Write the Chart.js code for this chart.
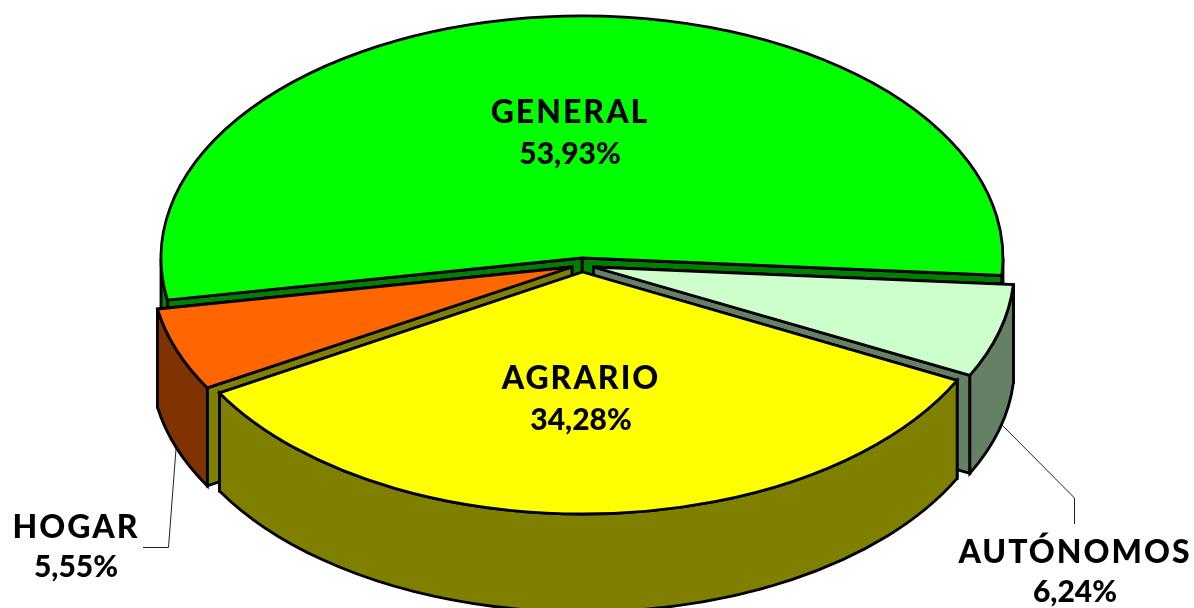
<!DOCTYPE html>
<html lang="es">
<head>
<meta charset="utf-8">
<title>Distribución por regímenes</title>
<style>html,body{margin:0;padding:0;background:#fff;overflow:hidden}canvas{display:block}</style>
<script src="https://cdn.jsdelivr.net/npm/chart.js@4"></script>
</head>
<body>
<canvas id="c" width="1194" height="608"></canvas>
<script>
// Data
const categories = ['GENERAL', 'AUTÓNOMOS', 'AGRARIO', 'HOGAR'];
const shares = [53.93, 6.24, 34.28, 5.55];
const topColors = ['#00FF00', '#CCFFCC', '#FFFF00', '#FF6600'];
const sideColors = ['#008000', '#668066', '#808000', '#803300'];
// colour of the radial cut faces of each slice
const cutColors = ['#008000', '#668066', '#808000', '#808000'];

// 3D projection settings
const RY = 242, DEPTH = 98;
const radiiX = [421, 421, 419, 421];
const centers = [[582, 258], [593.5, 267], [582.5, 272], [572, 267]];
const paintOrder = [0, 1, 3, 2];
const nameStyle = '900 32px Lato, sans-serif';
const pctStyle = '900 30px Lato, sans-serif';
const nameSpacing = '2px';
const labelPlace = [
  [570, 113, 154],
  [1075, 553, 592],
  [581, 379, 420],
  [76, 528, 567]
];
const leaders = [
  [[143, 547.5], [168.5, 547.5], [176, 449]],
  [[1002, 425], [1074.5, 498], [1074.5, 524]]
];

const pie3d = {
  id: 'pie3d',
  beforeDatasetsDraw(chart) {
    const ctx = chart.ctx;
    const arcs = chart.getDatasetMeta(0).data;

    function style() {
      ctx.strokeStyle = '#000';
      ctx.lineWidth = 2.8;
      ctx.lineJoin = 'miter';
      ctx.miterLimit = 3;
    }
    function wall(c, RX, a, color) {
      const p = [c[0] + RX * Math.cos(a), c[1] + RY * Math.sin(a)];
      ctx.beginPath();
      ctx.moveTo(c[0], c[1]);
      ctx.lineTo(p[0], p[1]);
      ctx.lineTo(p[0], p[1] + DEPTH);
      ctx.lineTo(c[0], c[1] + DEPTH);
      ctx.closePath();
      ctx.fillStyle = color;
      ctx.fill();
      style();
      ctx.stroke();
    }
    function outer(c, RX, a0, a1, color) {
      // only the front half (sin > 0) of the rim can be seen
      for (let k = 0; k <= 2; k++) {
        const lo = Math.max(a0, k * 2 * Math.PI);
        const hi = Math.min(a1, k * 2 * Math.PI + Math.PI);
        if (hi <= lo) continue;
        ctx.beginPath();
        ctx.ellipse(c[0], c[1], RX, RY, 0, lo, hi, false);
        ctx.ellipse(c[0], c[1] + DEPTH, RX, RY, 0, hi, lo, true);
        ctx.closePath();
        ctx.fillStyle = color;
        ctx.fill();
        style();
        ctx.stroke();
      }
    }
    function norm(a) {
      let x = a;
      while (x < 0) x += 2 * Math.PI;
      return x;
    }

    paintOrder.forEach(i => {
      const arc = arcs[i];
      const c = centers[i];
      const RX = radiiX[i];
      const a0 = norm(arc.startAngle);
      const a1 = a0 + (arc.endAngle - arc.startAngle);
      // the cut face further to the back is painted first
      [a0, a1].sort((p, q) => Math.sin(p) - Math.sin(q))
        .forEach(a => wall(c, RX, a, cutColors[i]));
      outer(c, RX, a0, a1, sideColors[i]);
      // top face: the library's own arc element, flattened into an ellipse
      ctx.save();
      ctx.translate(c[0], c[1]);
      ctx.scale(RX / arc.outerRadius, RY / arc.outerRadius);
      ctx.translate(-arc.x, -arc.y);
      arc.draw(ctx);
      ctx.restore();
      ctx.beginPath();
      ctx.moveTo(c[0], c[1]);
      ctx.ellipse(c[0], c[1], RX, RY, 0, a0, a1, false);
      ctx.closePath();
      style();
      ctx.stroke();
    });

    ctx.strokeStyle = '#222';
    ctx.lineWidth = 1;
    leaders.forEach(l => {
      ctx.beginPath();
      l.forEach((p, k) => k ? ctx.lineTo(p[0], p[1]) : ctx.moveTo(p[0], p[1]));
      ctx.stroke();
    });

    ctx.fillStyle = '#000';
    ctx.textAlign = 'center';
    ctx.textBaseline = 'middle';
    categories.forEach((name, i) => {
      const p = labelPlace[i];
      ctx.font = nameStyle;
      ctx.letterSpacing = nameSpacing;
      ctx.fillText(name, p[0], p[1]);
      ctx.font = pctStyle;
      ctx.letterSpacing = '0px';
      ctx.fillText(shares[i].toFixed(2).replace('.', ',') + '%', p[0], p[2]);
    });
    return false;
  }
};

new Chart(document.getElementById('c'), {
  type: 'pie',
  data: {
    labels: categories,
    datasets: [{ data: shares, backgroundColor: topColors, borderWidth: 0 }]
  },
  options: {
    responsive: false,
    animation: false,
    devicePixelRatio: 1,
    rotation: 260,
    layout: { padding: 0 },
    plugins: { legend: { display: false }, tooltip: { enabled: false } }
  },
  plugins: [pie3d]
});
</script>
</body>
</html>
